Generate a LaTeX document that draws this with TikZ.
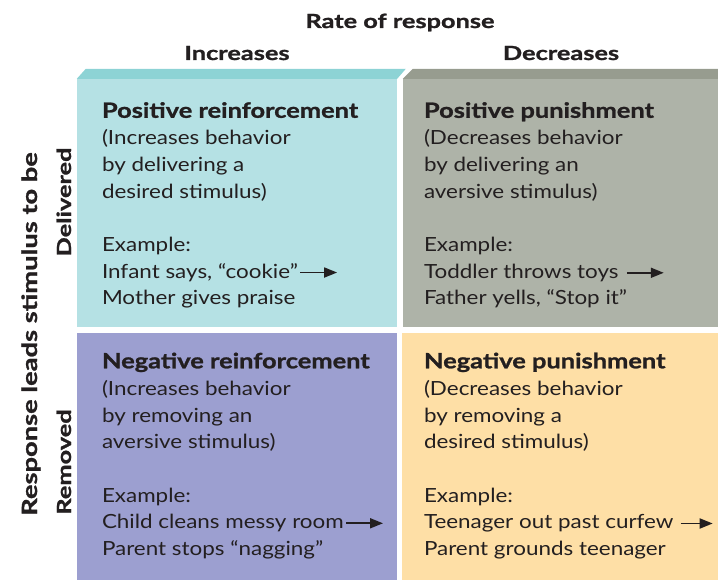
\documentclass[tikz,border=0pt]{standalone}
\usepackage{fontspec}
\setmainfont{Lato}
\newfontfamily\bodyfont[FakeStretch=1.15]{Lato}
\newfontfamily\titlefont[FakeStretch=1.21, FakeBold=1.2]{Lato}
\newfontfamily\headfont[FakeStretch=1.3, FakeBold=1.2]{Lato}
\usepackage{xcolor}
\usetikzlibrary{arrows.meta, positioning}

\definecolor{tealface}{HTML}{B5E1E4}
\definecolor{tealtop}{HTML}{8DD3D5}
\definecolor{grayface}{HTML}{AEB3A8}
\definecolor{graytop}{HTML}{979C8F}
\definecolor{purpface}{HTML}{9C9FD0}
\definecolor{yellface}{HTML}{FEDFA6}
\definecolor{ink}{HTML}{231F20}

\begin{document}
\begin{tikzpicture}[
        x=1pt, y=-1pt,
        every node/.style={font=\bodyfont\fontsize{19.5}{26.7}\selectfont, text=ink, inner sep=0pt},
        head/.style={anchor=base, font=\headfont\bfseries\fontsize{19.5}{23}\selectfont},
        panel/.style={rectangle, minimum width=#1, minimum height=248pt},
        title/.style={anchor=base west, font=\titlefont\bfseries\fontsize{21}{27}\selectfont},
        desc/.style={anchor=base west, align=left},
        line/.style={anchor=base west},
        arr/.style={->, line width=1.8pt, draw=ink},
        >={Triangle[length=13pt, width=10pt]}
    ]
        \useasboundingbox (0,0) rectangle (718,580);

        % quadrants
        \node[panel=320pt, fill=tealface] (pr) at (237,203) {};
        \node[panel=315pt, fill=grayface] (pp) at (560.5,203) {};
        \node[panel=320pt, fill=purpface] (nr) at (237,456.5) {};
        \node[panel=316pt, fill=yellface] (np) at (560,456.5) {};
        \fill[tealtop] (pr.north west) -- ++(9,-10) -- ++(320,0) -- (pr.north east) -- cycle;
        \fill[graytop] (pp.north west) -- ++(10,-10) -- (718,69) -- (pp.north east) -- cycle;

        % headings
        \node[head] (rate) at (400,28) {Rate of response};
        \node[head] (inc) at (237,60) {Increases};
        \node[head] (dec) at (561,60) {Decreases};
        \node[head, rotate=90, font=\headfont\bfseries\fontsize{21}{25}\selectfont] (leads) at (37,334) {Response leads stimulus to be};
        \node[head, rotate=90] (deliv) at (71,202) {Delivered};
        \node[head, rotate=90] (remov) at (71,462) {Removed};

        % positive reinforcement
        \node[title] (prT) at ([shift={(25,39)}]pr.north west) {Positive reinforcement};
        \node[desc, below=80.4pt of prT.base west, anchor=base west] (prD) {(Increases behavior\\by delivering a\\desired stimulus)};
        \node[line, below=134pt of prT.base west, anchor=base west] (prE) {Example:};
        \node[line, below=26.5pt of prE.base west, anchor=base west] (prE1) {Infant says, “cookie”};
        \node[line, below=26.5pt of prE1.base west, anchor=base west] (prE2) {Mother gives praise};
        \coordinate[right=2pt of prE1.east] (prA0);
        \coordinate[right=37pt of prA0] (prA);
        \draw[arr] (prA0) -- (prA);

        % positive punishment
        \node[title] (ppT) at ([shift={(21,39)}]pp.north west) {Positive punishment};
        \node[desc, below=80.4pt of ppT.base west, anchor=base west] (ppD) {(Decreases behavior\\by delivering an\\aversive stimulus)};
        \node[line, below=134pt of ppT.base west, anchor=base west] (ppE) {Example:};
        \node[line, below=26.5pt of ppE.base west, anchor=base west] (ppE1) {Toddler throws toys};
        \node[line, below=26.5pt of ppE1.base west, anchor=base west] (ppE2) {Father yells, “Stop it”};
        \coordinate[right=8pt of ppE1.east] (ppA0);
        \coordinate[right=37pt of ppA0] (ppA);
        \draw[arr] (ppA0) -- (ppA);

        % negative reinforcement
        \node[title] (nrT) at ([shift={(25,36)}]nr.north west) {Negative reinforcement};
        \node[desc, below=80.4pt of nrT.base west, anchor=base west] (nrD) {(Increases behavior\\by removing an\\aversive stimulus)};
        \node[line, below=134pt of nrT.base west, anchor=base west] (nrE) {Example:};
        \node[line, below=26.5pt of nrE.base west, anchor=base west] (nrE1) {Child cleans messy room};
        \node[line, below=26.5pt of nrE1.base west, anchor=base west] (nrE2) {Parent stops “nagging”};
        \coordinate[right=2pt of nrE1.east] (nrA0);
        \coordinate[right=37pt of nrA0] (nrA);
        \draw[arr] (nrA0) -- (nrA);

        % negative punishment
        \node[title] (npT) at ([shift={(22,36)}]np.north west) {Negative punishment};
        \node[desc, below=80.4pt of npT.base west, anchor=base west] (npD) {(Decreases behavior\\by removing a\\desired stimulus)};
        \node[line, below=134pt of npT.base west, anchor=base west] (npE) {Example:};
        \node[line, below=26.5pt of npE.base west, anchor=base west] (npE1) {Teenager out past curfew};
        \node[line, below=26.5pt of npE1.base west, anchor=base west] (npE2) {Parent grounds teenager};
        \coordinate[right=7pt of npE1.east] (npA0);
        \coordinate[right=32pt of npA0] (npA);
        \draw[arr] (npA0) -- (npA);
    \end{tikzpicture}
\end{document}
